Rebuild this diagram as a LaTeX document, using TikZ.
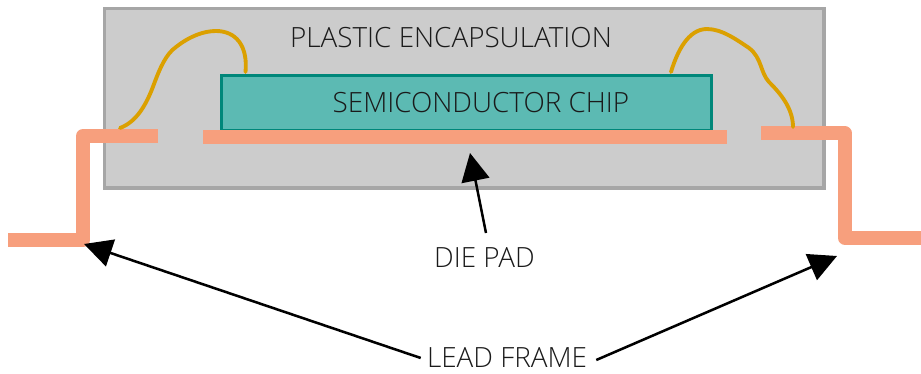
\documentclass[tikz,border=0pt]{standalone}
\usepackage{fontspec}
\setmainfont{Open Sans}[UprightFont=* Light]
\usetikzlibrary{arrows.meta}
\definecolor{pkgfill}{HTML}{CCCCCC}
\definecolor{pkgline}{HTML}{A6A6A6}
\definecolor{chipfill}{HTML}{5CBAB3}
\definecolor{chipline}{HTML}{00877A}
\definecolor{leadcol}{HTML}{F79F7D}
\definecolor{wirecol}{HTML}{DBA000}
\definecolor{txt}{HTML}{1A1A1A}
\tikzset{
  lead/.style={draw=leadcol,line width=10.5pt,line join=round},
  wire/.style={draw=wirecol,line width=2.9pt,line cap=round},
  lab/.style={text=txt,font=\fontsize{20.9pt}{24pt}\selectfont,inner sep=0pt},
  ptr/.style={draw=black,line width=1.9pt,-{Triangle[length=21pt,width=21pt]},shorten >=0pt},
}
\begin{document}
\begin{tikzpicture}[x=0.75pt,y=-0.75pt]
\useasboundingbox (0,0) rectangle (921,374);
\node[draw=pkgline,fill=pkgfill,line width=2.6pt,minimum width=539.7pt,minimum height=134.4pt,inner sep=0pt,anchor=north west] (pkg) at (102.5,7) {};
\node[draw=chipline,fill=chipfill,line width=2.4pt,minimum width=367.5pt,minimum height=41pt,inner sep=0pt,anchor=north west] (chip) at (219.5,74) {};
\node[lab] (encap) at (451,38) {PLASTIC ENCAPSULATION};
\node[lab] (semi) at (481,103) {SEMICONDUCTOR CHIP};
\node[fill=leadcol,minimum width=393pt,minimum height=10.7pt,inner sep=0pt,anchor=north west] (pad) at (203,129.5) {};
\coordinate (ll0) at (8,240);
\coordinate (ll1) at (83,240);
\coordinate (ll2) at (83,136);
\coordinate (ll3) at (158,136);
\coordinate (rl0) at (761,133.5);
\coordinate (rl1) at (845,133.5);
\coordinate (rl2) at (845,238);
\coordinate (rl3) at (921,238);
\draw[lead] (ll0) -- (ll1) -- (ll2) -- (ll3);
\draw[lead] (rl0) -- (rl1) -- (rl2) -- (rl3);
\coordinate (wl0) at (120,128);
\coordinate (wl1) at (245.5,72);
\draw[wire] (wl0) .. controls (136,122) and (146,106) .. (154,84)
  .. controls (160,68) and (166,54) .. (176,47)
  .. controls (190,36) and (204,31) .. (216,31)
  .. controls (236,31) and (248,46) .. (wl1);
\coordinate (wr0) at (671,72);
\coordinate (wr1) at (793,127);
\draw[wire] (wr0) .. controls (677,52) and (688,29) .. (707,29)
  .. controls (722,29) and (737,40) .. (749,48)
  .. controls (762,58) and (760,72) .. (769,82)
  .. controls (780,93) and (793,108) .. (wr1);
\node[lab] (die) at (484.5,258) {DIE PAD};
\node[lab] (frame) at (507,358) {LEAD FRAME};
\coordinate (tipd) at (470,153);
\coordinate (tipl) at (84,244);
\coordinate (tipr) at (837,256);
\draw[ptr] (486,233) -- (tipd);
\draw[ptr] (frame.west) ++(-6,0) -- (tipl);
\draw[ptr] (frame.east) ++(9,2) -- (tipr);
\end{tikzpicture}
\end{document}
